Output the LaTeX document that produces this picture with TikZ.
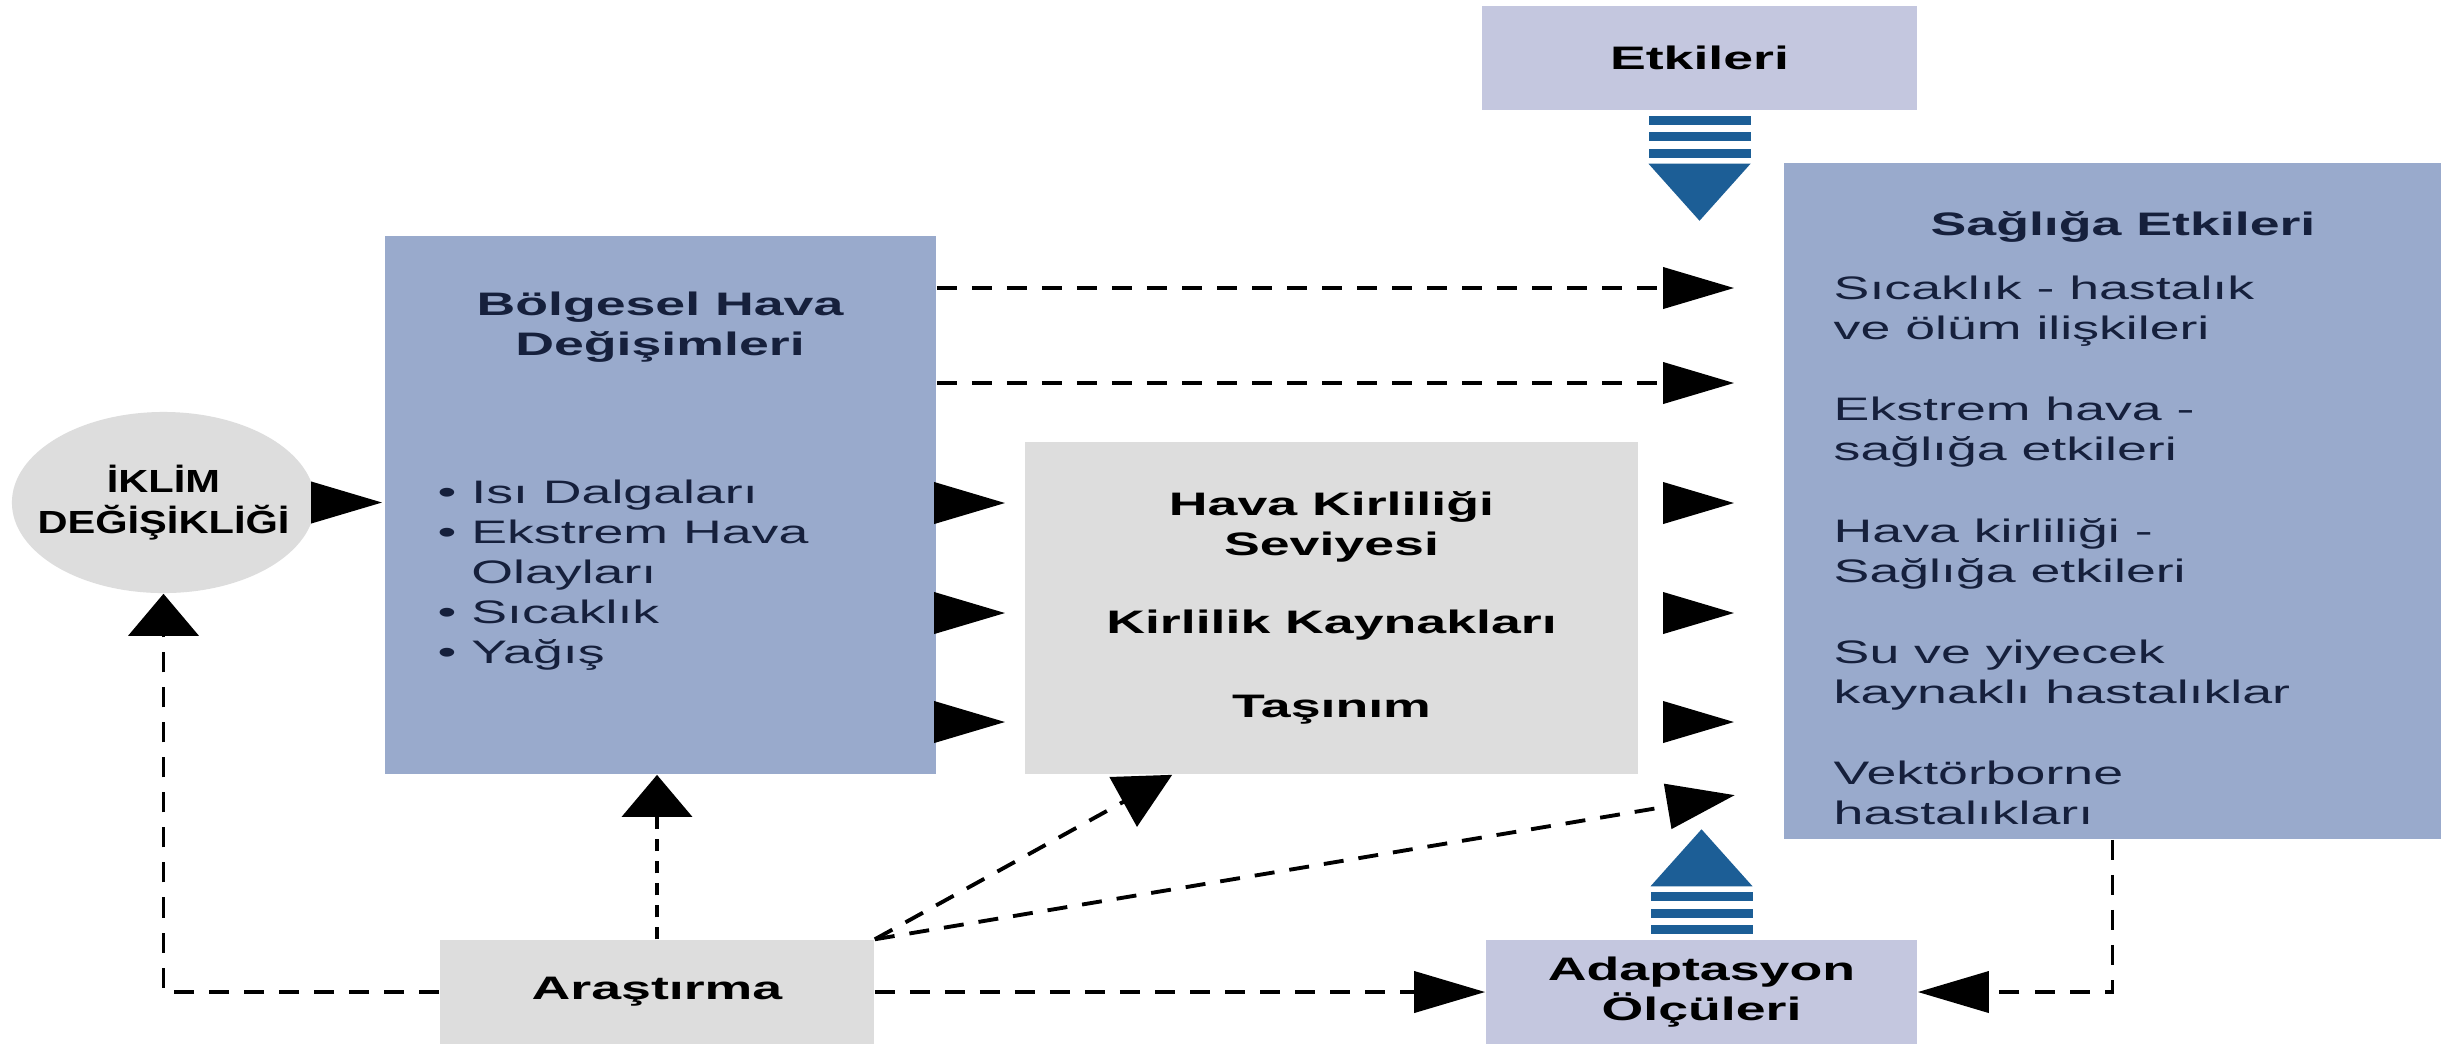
\documentclass[tikz,border=0pt]{standalone}
\usepackage{fontspec}
\setmainfont{Liberation Sans}[FakeStretch=1.65]
\newfontfamily\darfont{Liberation Sans}[FakeStretch=1.3]
\usepackage{tikz}
\usetikzlibrary{positioning,shapes.geometric,arrows.meta}
\definecolor{MaviKutu}{RGB}{153,170,204}
\definecolor{Lila}{RGB}{196,199,223}
\definecolor{Gri}{RGB}{221,221,221}
\definecolor{OkMavi}{RGB}{28,94,150}
\definecolor{Lacivert}{RGB}{22,32,60}

\begin{document}
\begin{tikzpicture}[x=0.01cm,y=-0.01cm,
  every node/.style={font=\fontsize{9.25}{11.4}\selectfont,inner sep=0pt},
  baslik/.style={font=\fontsize{9.25}{11.4}\selectfont\bfseries},
  baglanti/.style={line width=1.1pt,black},
  kesik/.style={dash pattern=on 0.2cm off 0.15cm},
  dikkesik/.style={dash pattern=on 0.12cm off 0.1cm},
  yatayok/.style={-{Triangle[length=0.71cm,width=0.41cm]}},
  dikok/.style={-{Triangle[length=0.42cm,width=0.7cm]}}]
\path[use as bounding box,fill=white] (0,0) rectangle (2458,1044);
% kutular
\node[fill=Lila,minimum width=4.35cm,minimum height=1.04cm,baslik] (etkileri) at (1699.5,58) {Etkileri};
\node[fill=MaviKutu,minimum width=6.57cm,minimum height=6.76cm] (saglik) at (2112.5,501) {};
\node[baslik,text=Lacivert] (saglikbaslik) at (2123,227) {Sağlığa Etkileri};
\node[anchor=west,align=left,text=Lacivert] (sagliklist) at (1833,550.5)
 {Sıcaklık - hastalık\\ve ölüm ilişkileri\\[0.41cm]Ekstrem hava -\\sağlığa etkileri\\[0.41cm]Hava kirliliği -\\Sağlığa etkileri\\[0.41cm]Su ve yiyecek\\kaynaklı hastalıklar\\[0.41cm]Vektörborne\\hastalıkları};
\node[fill=MaviKutu,minimum width=5.51cm,minimum height=5.38cm] (bolge) at (660.5,505) {};
\node[baslik,text=Lacivert,align=center] (bolgebaslik) at (660,327) {Bölgesel Hava\\Değişimleri};
\node[anchor=west,align=left,text=Lacivert] (bolgelist) at (437,575)
 {\textbullet~Isı Dalgaları\\\textbullet~Ekstrem Hava\\\phantom{\textbullet~}Olayları\\\textbullet~Sıcaklık\\\textbullet~Yağış};
\node[fill=Gri,minimum width=6.13cm,minimum height=3.32cm,baslik,align=center] (kirlilik) at (1331.5,608)
 {Hava Kirliliği\\Seviyesi\\[0.38cm]Kirlilik Kaynakları\\[0.44cm]Taşınım};
\node[ellipse,fill=Gri,minimum width=3.03cm,minimum height=1.81cm] (iklim) at (163.5,502.5) {};
\node[align=center,font=\darfont\fontsize{9.1}{11.7}\selectfont\bfseries] (iklimyazi) at (iklim) {İKLİM\\DEĞİŞİKLİĞİ};
\node[fill=Gri,minimum width=4.34cm,minimum height=1.04cm,baslik] (arastirma) at (657,992) {Araştırma};
\node[fill=Lila,minimum width=4.31cm,minimum height=1.04cm,baslik,align=center] (adaptasyon) at (1701.5,992) {Adaptasyon\\Ölçüleri};
% mavi oklar
\begin{scope}[shift={(etkileri.south)}]
\foreach \yy in {5,21,38} \fill[OkMavi] (-51,\yy) rectangle (51,\yy+9);
\fill[OkMavi] (-51,53) -- (51,53) -- (0,110) -- cycle;
\end{scope}
\begin{scope}[shift={(adaptasyon.north)}]
\foreach \yy in {5,21,38} \fill[OkMavi] (-51,-\yy) rectangle (51,-\yy-9);
\fill[OkMavi] (-51,-53) -- (51,-53) -- (0,-110) -- cycle;
\end{scope}
% baglantilar
\draw[baglanti,yatayok,shorten >=0.02cm] (iklim.east) -- (bolge.west |- iklim.east);
\foreach \yy in {503,613,722} {
  \draw[baglanti,yatayok,shorten >=0.19cm] (bolge.east |- 0,\yy) -- (kirlilik.west |- 0,\yy);
  \draw[baglanti,yatayok,shorten <=0.25cm,shorten >=0.49cm] (kirlilik.east |- 0,\yy) -- (saglik.west |- 0,\yy);
}
\foreach \yy in {288,383}
  \draw[baglanti,kesik,yatayok,shorten >=0.49cm] (bolge.east |- 0,\yy) -- (saglik.west |- 0,\yy);
\draw[baglanti,kesik,dikok] (arastirma.west) -| (iklim.south);
\draw[baglanti,dikkesik,dikok] (arastirma.north) -- (arastirma.north |- bolge.south);
\draw[baglanti,kesik,-{Triangle[length=0.56cm,width=0.56cm]}] (arastirma.north east) -- ([xshift=1.48cm]kirlilik.south west);
\draw[baglanti,kesik,-{Triangle[length=0.68cm,width=0.45cm]},shorten >=0.49cm] (arastirma.north east) -- (saglik.west |- 0,787);
\draw[baglanti,kesik,yatayok] (arastirma.east) -- (adaptasyon.west);
\draw[baglanti,kesik,yatayok] (saglik.south) |- (adaptasyon.east);
\end{tikzpicture}
\end{document}
